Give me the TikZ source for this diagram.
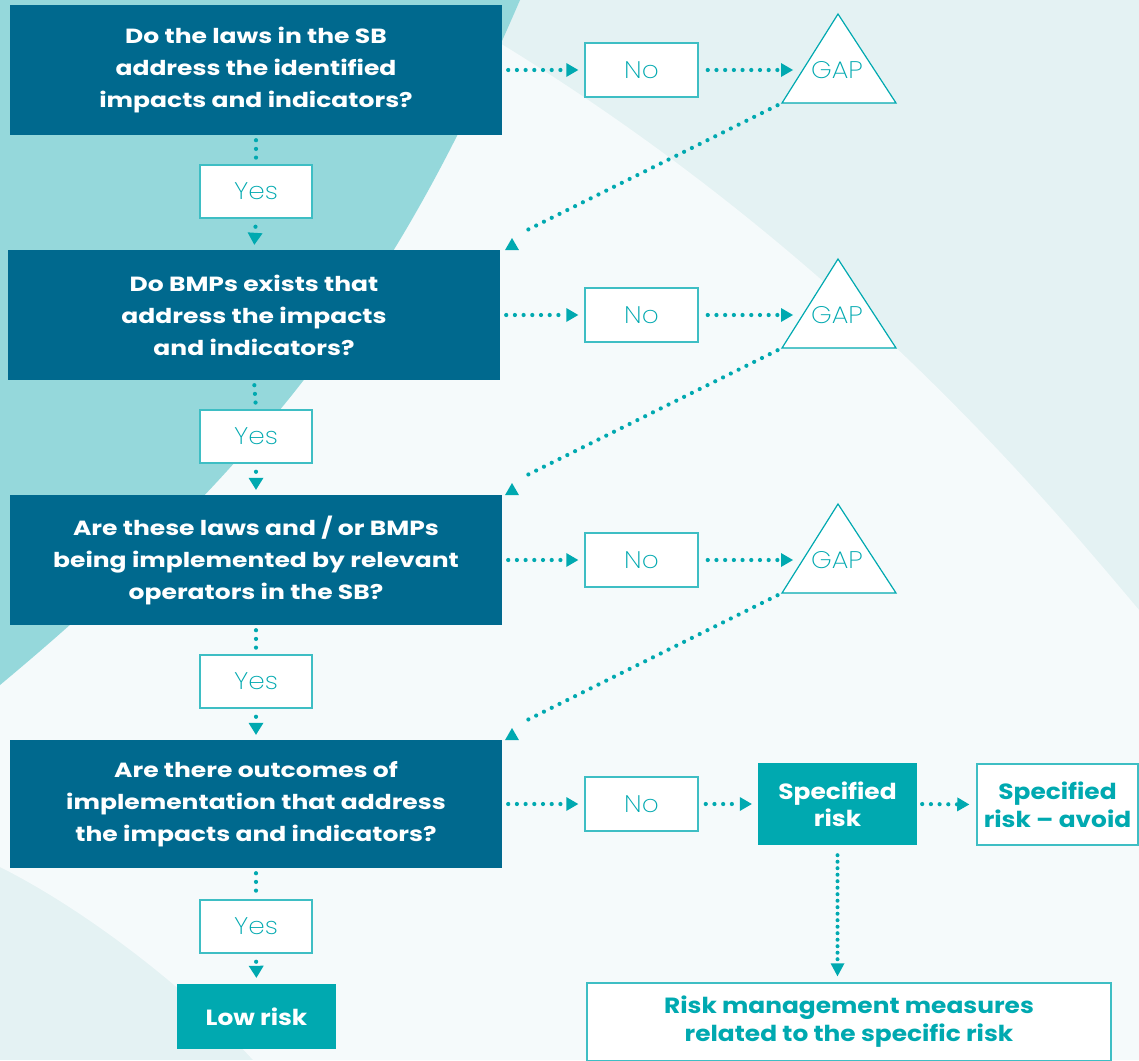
\documentclass[tikz,border=0pt]{standalone}
\usepackage{fontspec}
\setmainfont{Poppins}
\newfontfamily\qfont{Poppins}[FakeStretch=1.22,Ligatures=TeX]
\newfontfamily\rfont{Poppins}[FakeStretch=1.13,Ligatures=TeX]
\newfontfamily\lightfont{Poppins ExtraLight}[FakeStretch=1.1]
\usetikzlibrary{arrows.meta,shapes.geometric}
\definecolor{dkblue}{RGB}{0,105,142}
\definecolor{cteal}{RGB}{0,169,176}
\definecolor{cborder}{RGB}{62,190,196}
\definecolor{bgbase}{RGB}{228,242,243}
\definecolor{bgteal}{RGB}{149,216,219}
\definecolor{bgwhite}{RGB}{245,250,251}
\begin{document}
\begin{tikzpicture}[x=1pt,y=-1pt,
  question/.style={fill=dkblue, text=white, font=\qfont\bfseries\fontsize{20.5}{32}\selectfont,
    align=center, minimum width=492pt, minimum height=130pt, inner sep=0pt},
  answer/.style={fill=white, draw=cborder, line width=1.5pt, text=cteal,
    font=\lightfont\fontsize{24}{28}\selectfont, minimum width=112pt, minimum height=53pt, inner sep=0pt},
  gaptri/.style={fill=white, draw=cteal, line width=1.2pt, line join=miter},
  gaptext/.style={text=cteal, font=\lightfont\fontsize{24}{28}\selectfont, inner sep=0pt},
  risk/.style={fill=cteal, text=white, font=\rfont\bfseries\fontsize{22}{27}\selectfont,
    align=center, inner sep=0pt},
  outbox/.style={fill=white, draw=cborder, line width=1.5pt, text=cteal,
    font=\rfont\bfseries\fontsize{22}{28}\selectfont, align=center, inner sep=0pt},
  uptri/.style={regular polygon, regular polygon sides=3, fill=cteal, minimum size=16pt, inner sep=0pt},
  dotline/.style={draw=cteal, line width=4.2pt, line cap=round, dash pattern=on 0pt off 8.7pt},
  fineline/.style={draw=cteal, line width=4pt, line cap=round, dash pattern=on 0pt off 6.5pt},
  tipr/.style={-{Triangle[length=12pt,width=14pt,line width=0pt]}},
  tipd/.style={-{Triangle[length=12pt,width=15pt,line width=0pt]}}
]
\useasboundingbox (0,0) rectangle (1139,1060);
\clip (0,0) rectangle (1139,1060);
% background
\fill[bgbase] (0,0) rectangle (1139,1060);
\fill[bgwhite] (0,600) -- (480,31) .. controls (830,241) and (1039,491) .. (1139,610)
  -- (1139,1060) -- (253,1060) .. controls (193,994) and (90,912) .. (0,867) -- cycle;
\fill[bgteal] (0,0) -- (520,0) .. controls (412,250) and (300,435) .. (0,685) -- cycle;

% questions
\node[question] (q1) at (256,70) {Do the laws in the SB\\address the identified\\impacts and indicators?};
\node[question] (q2) at (254,315) {Do BMPs exists that\\address the impacts\\and indicators?};
\node[question] (q3) at (256,560) {Are these laws and / or BMPs\\being implemented by relevant\\operators in the SB?};
\node[question, minimum height=128pt] (q4) at (256,804) {Are there outcomes of\\implementation that address\\the impacts and indicators?};

% yes boxes
\node[answer] (y1) at (256,191.5) {Yes};
\node[answer] (y2) at (256,436.5) {Yes};
\node[answer] (y3) at (256,681.5) {Yes};
\node[answer] (y4) at (256,926.5) {Yes};

% no boxes
\node[answer, minimum width=113pt, minimum height=54pt] (n1) at (641.5,70) {No};
\node[answer, minimum width=113pt, minimum height=54pt] (n2) at (641.5,315) {No};
\node[answer, minimum width=113pt, minimum height=54pt] (n3) at (641.5,560) {No};
\node[answer, minimum width=113pt, minimum height=54pt] (n4) at (641.5,804) {No};

% GAP triangles
\draw[gaptri] (782,103) -- (838,14) -- (896,103) -- cycle;
\draw[gaptri] (782,348) -- (838,259) -- (896,348) -- cycle;
\draw[gaptri] (782,593) -- (838,504) -- (896,593) -- cycle;
\node[gaptext] (gap1) at (837,70) {GAP};
\node[gaptext] (gap2) at (837,315) {GAP};
\node[gaptext] (gap3) at (837,560) {GAP};
\coordinate (g1in) at (803,70);
\coordinate (g2in) at (803,315);
\coordinate (g3in) at (803,560);
\coordinate (g1b) at (782,103);
\coordinate (g2b) at (782,348);
\coordinate (g3b) at (782,593);

% diagonal arrow tips
\node[uptri] (t1) at (512,246) {};
\node[uptri] (t2) at (512,491) {};
\node[uptri] (t3) at (512,736) {};

% outcomes
\node[risk, minimum width=159pt, minimum height=82pt] (spec) at (837.5,804) {Specified\\risk};
\node[outbox, minimum width=161pt, minimum height=81pt] (avoid) at (1057.5,804.5) {Specified\\risk – avoid};
\node[outbox, minimum width=524pt, minimum height=78pt] (rm) at (849,1022) {Risk management measures\\related to the specific risk};
\node[risk, minimum width=159pt, minimum height=65pt] (low) at (256.5,1016.5) {Low risk};

% vertical connectors
\foreach \a/\b in {q1/y1,q2/y2,q3/y3,q4/y4}
  \draw[dotline, shorten <=5pt, shorten >=5pt] (\a.south) -- (\b.north);
\foreach \a/\b in {y1/q2,y2/q3,y3/q4}
  \draw[dotline, tipd, shorten <=8pt, shorten >=5pt] (\a.south) -- (\b.north);
\draw[dotline, tipd, shorten <=8pt, shorten >=6pt] (y4.south) -- (low.north);

% horizontal connectors
\foreach \a/\b in {q1/n1,q2/n2,q3/n3,q4/n4}
  \draw[dotline, tipr, shorten <=6pt, shorten >=6pt] (\a.east) -- (\b.west);
\foreach \a/\b in {n1/g1in,n2/g2in,n3/g3in}
  \draw[dotline, tipr, shorten <=9pt, shorten >=10pt] (\a.east) -- (\b);
\draw[dotline, tipr, shorten <=7pt, shorten >=6pt] (n4.east) -- (spec.west);
\draw[dotline, tipr, shorten <=5pt, shorten >=7pt] (spec.east) -- (avoid.west);
\draw[fineline, -{Triangle[length=13pt,width=14pt,line width=0pt]}, shorten <=10pt, shorten >=6pt] (spec.south) -- (spec.south |- rm.north);

% diagonal connectors
\draw[dotline, shorten <=5pt, shorten >=12pt] (g1b) -- (t1.corner 1);
\draw[dotline, shorten <=5pt, shorten >=12pt] (g2b) -- (t2.corner 1);
\draw[dotline, shorten <=5pt, shorten >=12pt] (g3b) -- (t3.corner 1);
\end{tikzpicture}
\end{document}
